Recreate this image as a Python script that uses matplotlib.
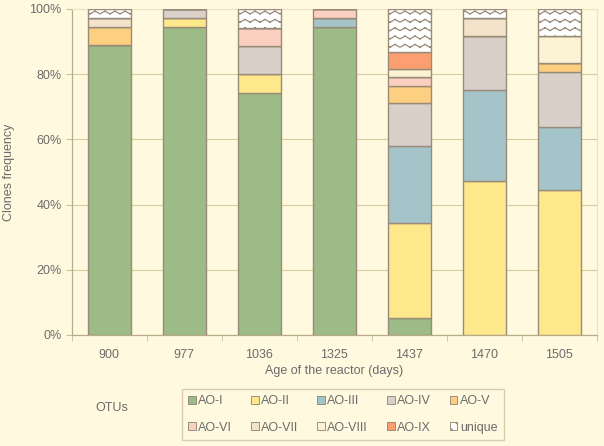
import warnings
import numpy as np
import matplotlib
matplotlib.use("Agg")
import matplotlib.pyplot as plt
import matplotlib.hatch as mhatch
from matplotlib.path import Path
from matplotlib.patches import Patch

warnings.filterwarnings("ignore")

# data: clone frequency (%) per OTU for each reactor age
ages = ["900", "977", "1036", "1325", "1437", "1470", "1505"]
otus = ["AO-I", "AO-II", "AO-III", "AO-IV", "AO-V",
        "AO-VI", "AO-VII", "AO-VIII", "AO-IX", "unique"]
ao_1 = [89.0, 94.4, 74.3, 94.4, 5.3, 0.0, 0.0]
ao_2 = [0.0, 2.8, 5.7, 0.0, 28.9, 47.2, 44.4]
ao_3 = [0.0, 0.0, 0.0, 2.8, 23.7, 27.8, 19.4]
ao_4 = [0.0, 2.8, 8.6, 0.0, 13.2, 16.7, 16.7]
ao_5 = [5.5, 0.0, 0.0, 0.0, 5.3, 0.0, 2.8]
ao_6 = [0.0, 0.0, 5.7, 2.8, 2.6, 0.0, 0.0]
ao_7 = [2.7, 0.0, 0.0, 0.0, 0.0, 5.6, 0.0]
ao_8 = [0.0, 0.0, 0.0, 0.0, 2.6, 0.0, 8.3]
ao_9 = [0.0, 0.0, 0.0, 0.0, 5.3, 0.0, 0.0]
unique = [2.8, 0.0, 5.7, 0.0, 13.1, 2.8, 8.3]

colors = ["#9dbb87", "#fde98c", "#a4c4c9", "#d9d0ca", "#fdcf80",
          "#fbd0c0", "#f3e3cb", "#fcf2d4", "#fb9f70", "white"]

bg = "#fffadf"
edge = "#9a8b78"
txt = "#6b6b6b"


# wavy hatch for the "unique" group, built from short straight segments
class ZigZagHatch(mhatch.HatchPatternBase):
    def __init__(self, hatch, density):
        self.rows = hatch.count("z") * 12
        self.waves = 10
        self.num_vertices = self.rows * self.waves * 4

    def set_vertices_and_codes(self, vertices, codes):
        n = 2 * self.waves + 1
        xs = np.linspace(0, 1, n)
        amp = 0.17 / self.rows
        k = 0
        for r in range(self.rows):
            y0 = (r + 0.5) / self.rows
            ys = y0 + np.where(np.arange(n) % 2 == 0, -amp, amp)
            for i in range(n - 1):
                vertices[k] = xs[i], ys[i]
                vertices[k + 1] = xs[i + 1], ys[i + 1]
                codes[k] = Path.MOVETO
                codes[k + 1] = Path.LINETO
                k += 2


mhatch._hatch_types.append(ZigZagHatch)

plt.rcParams["font.family"] = ["Liberation Sans", "DejaVu Sans"]
plt.rcParams["hatch.linewidth"] = 0.9

fig = plt.figure(figsize=(6.04, 4.46), dpi=100, facecolor=bg)
ax = fig.add_axes([0.119, 0.249, 0.869, 0.731], facecolor=bg)

series = [ao_1, ao_2, ao_3, ao_4, ao_5, ao_6, ao_7, ao_8, ao_9, unique]
x = np.arange(len(ages))
bottom = np.zeros(len(ages))
for name, vals, col in zip(otus, series, colors):
    vals = np.array(vals)
    ax.bar(x, vals, 0.58, bottom=bottom, color=col, edgecolor=edge,
           linewidth=1.0, hatch="z" if name == "unique" else None, zorder=3)
    bottom += vals

ax.set_xlim(-0.5, len(ages) - 0.5)
ax.set_ylim(0, 100)
ax.set_yticks(np.arange(0, 101, 20))
ax.set_yticklabels([f"{v}%" for v in range(0, 101, 20)])
ax.set_xticks(x)
ax.set_xticklabels(ages)
ax.set_xticks(np.arange(-0.5, len(ages), 1), minor=True)
ax.tick_params(axis="x", which="major", length=0, pad=10, labelsize=9, labelcolor=txt)
ax.tick_params(axis="x", which="minor", length=4, color="#c9bd9e")
ax.tick_params(axis="y", length=4, color="#c9bd9e", labelsize=9, labelcolor=txt)
ax.grid(axis="y", color="#d8cc9e", linewidth=0.8, zorder=0)

for s in ["top", "right"]:
    ax.spines[s].set_color("#ece3c0")
    ax.spines[s].set_linewidth(0.8)
for s in ["left", "bottom"]:
    ax.spines[s].set_color("#b9ab8a")
    ax.spines[s].set_linewidth(0.9)

ax.set_ylabel("Clones frequency", fontsize=9, color=txt, labelpad=10)
ax.set_xlabel("Age of the reactor (days)", fontsize=9, color=txt, labelpad=3)

# legend is filled row by row (5 per row), matplotlib fills by column
handles = [Patch(facecolor=c, edgecolor="#8a8070", linewidth=0.6,
                 hatch="\\\\\\" if n == "unique" else None)
           for n, c in zip(otus, colors)]
order = [0, 5, 1, 6, 2, 7, 3, 8, 4, 9]
leg = fig.legend([handles[i] for i in order], [otus[i] for i in order],
                 ncol=5, loc="lower left",
                 bbox_to_anchor=(0.301, 0.0135, 0.533, 0.117), mode="expand",
                 fontsize=9, frameon=True, fancybox=False, handlelength=0.6,
                 handleheight=0.6, handletextpad=0.2, columnspacing=0.5,
                 labelspacing=1.15, borderpad=0.5, borderaxespad=0.0)
leg.get_frame().set_facecolor(bg)
leg.get_frame().set_edgecolor("#cfc4a4")
for t in leg.get_texts():
    t.set_color(txt)

fig.text(0.185, 0.085, "OTUs", fontsize=9, color=txt, va="center", ha="center")

fig.savefig("out.png", dpi=100, facecolor=bg)
